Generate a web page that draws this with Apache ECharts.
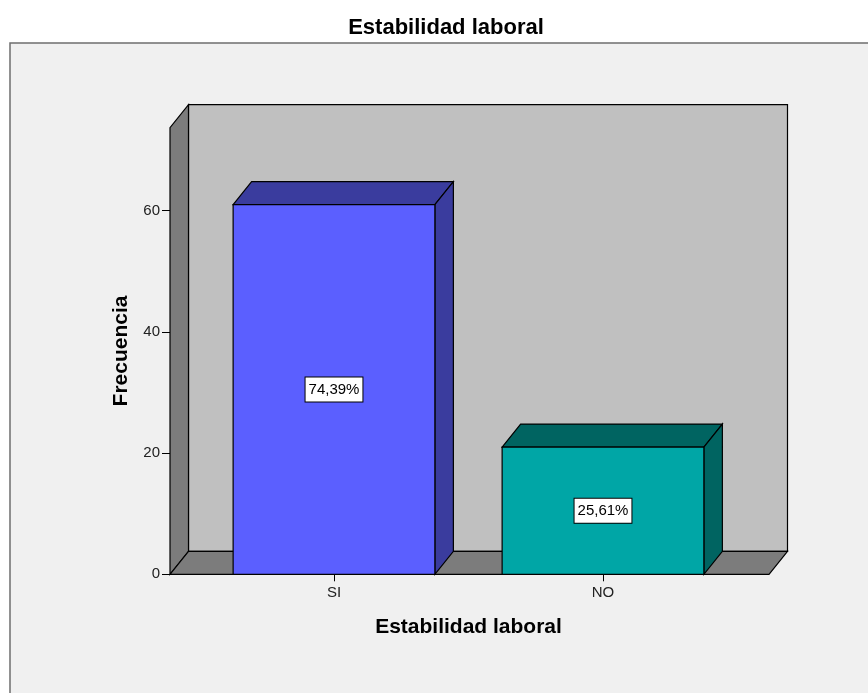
<!DOCTYPE html>
<html>
<head>
<meta charset="utf-8">
<title>Estabilidad laboral</title>
<script src="https://cdn.jsdelivr.net/npm/echarts@6/dist/echarts.min.js"></script>
<style>
  html, body { margin: 0; padding: 0; background: #ffffff; }
  #chart { width: 868px; height: 693px; }
</style>
</head>
<body>
<div id="chart"></div>
<script>
// Frequencies of the "Estabilidad laboral" answers
const categories = ['SI', 'NO'];
const frequencies = [61, 21];
const percentLabels = ['74,39%', '25,61%'];
const yTickValues = [0, 20, 40, 60];
const yAxisMax = 73.7;

// 3-D look: depth offset of the box and the bars
const DEPTH_X = 18.5;
const DEPTH_Y = -23;
// How far the floor reaches beyond the category band on each side
const FLOOR_EXT_LEFT = 29.5;
const FLOOR_EXT_RIGHT = 31.5;

const barFront = ['#5b5fff', '#00a6a6'];
const barShade = ['#3a3c9e', '#006461'];

const FONT = 'Arial, "Liberation Sans", sans-serif';

const chart = echarts.init(document.getElementById('chart'), null, { renderer: 'canvas' });

function renderBox(params, api) {
  const cs = params.coordSys;
  const x0 = cs.x - FLOOR_EXT_LEFT;
  const x1 = cs.x + cs.width + FLOOR_EXT_RIGHT;
  const yb = cs.y + cs.height;
  const yt = api.coord([0, yAxisMax])[1];
  const edge = { stroke: '#000', lineWidth: 1.2 };
  return {
    type: 'group',
    children: [
      { // back wall
        type: 'polygon',
        shape: { points: [[x0 + DEPTH_X, yt + DEPTH_Y], [x1 + DEPTH_X, yt + DEPTH_Y], [x1 + DEPTH_X, yb + DEPTH_Y], [x0 + DEPTH_X, yb + DEPTH_Y]] },
        style: Object.assign({ fill: '#c0c0c0' }, edge)
      },
      { // left side wall
        type: 'polygon',
        shape: { points: [[x0, yb], [x0, yt], [x0 + DEPTH_X, yt + DEPTH_Y], [x0 + DEPTH_X, yb + DEPTH_Y]] },
        style: Object.assign({ fill: '#7c7c7c' }, edge)
      },
      { // floor
        type: 'polygon',
        shape: { points: [[x0, yb], [x1, yb], [x1 + DEPTH_X, yb + DEPTH_Y], [x0 + DEPTH_X, yb + DEPTH_Y]] },
        style: Object.assign({ fill: '#7c7c7c' }, edge)
      }
    ]
  };
}

function renderBar(params, api) {
  const idx = api.value(0);
  const top = api.coord([idx, api.value(1)]);
  const base = api.coord([idx, 0]);
  const w = api.size([1, 0])[0] * 0.75;
  const l = top[0] - w / 2;
  const r = l + w;
  const edge = { stroke: '#000', lineWidth: 1.2 };
  return {
    type: 'group',
    children: [
      {
        type: 'polygon',
        shape: { points: [[l, top[1]], [l + DEPTH_X, top[1] + DEPTH_Y], [r + DEPTH_X, top[1] + DEPTH_Y], [r, top[1]]] },
        style: Object.assign({ fill: barShade[idx] }, edge)
      },
      {
        type: 'polygon',
        shape: { points: [[r, top[1]], [r + DEPTH_X, top[1] + DEPTH_Y], [r + DEPTH_X, base[1] + DEPTH_Y], [r, base[1]]] },
        style: Object.assign({ fill: barShade[idx] }, edge)
      },
      {
        type: 'rect',
        shape: { x: l, y: top[1], width: w, height: base[1] - top[1] },
        style: Object.assign({ fill: barFront[idx] }, edge)
      },
      {
        type: 'text',
        x: top[0],
        y: (top[1] + base[1]) / 2,
        style: {
          text: percentLabels[idx],
          font: '15px ' + FONT,
          fill: '#000',
          align: 'center',
          verticalAlign: 'middle',
          backgroundColor: '#fff',
          borderColor: '#000',
          borderWidth: 1,
          padding: [5, 3, 4, 3]
        }
      }
    ]
  };
}

chart.setOption({
  animation: false,
  backgroundColor: '#ffffff',
  title: {
    text: 'Estabilidad laboral',
    left: 446,
    top: 17,
    padding: 0,
    textAlign: 'center',
    textStyle: { fontFamily: FONT, fontSize: 22, fontWeight: 'bold', color: '#000' }
  },
  graphic: [{
    type: 'rect',
    z: -10,
    shape: { x: 10, y: 43, width: 900, height: 700 },
    style: { fill: '#f0f0f0', stroke: '#6e6e6e', lineWidth: 1.5 }
  }],
  grid: { left: 199.5, right: 130.5, top: 127.7, bottom: 118.7 },
  xAxis: {
    type: 'category',
    data: categories,
    boundaryGap: true,
    name: 'Estabilidad laboral',
    nameLocation: 'middle',
    nameGap: 42,
    nameTextStyle: { fontFamily: FONT, fontSize: 21, fontWeight: 'bold', color: '#000' },
    axisLine: { show: false },
    axisTick: { show: true, alignWithLabel: true, length: 7, lineStyle: { color: '#000' } },
    axisLabel: { margin: 11, fontFamily: FONT, fontSize: 15, color: '#222' },
    splitLine: { show: false }
  },
  yAxis: {
    type: 'value',
    min: 0,
    max: yAxisMax,
    offset: FLOOR_EXT_LEFT,
    name: 'Frecuencia',
    nameLocation: 'middle',
    nameGap: 38,
    nameTextStyle: { fontFamily: FONT, fontSize: 21, fontWeight: 'bold', color: '#000' },
    axisLine: { show: false },
    axisTick: { show: true, length: 8, customValues: yTickValues, lineStyle: { color: '#000' } },
    axisLabel: { margin: 10, fontFamily: FONT, fontSize: 15, color: '#222', customValues: yTickValues },
    splitLine: { show: false }
  },
  series: [
    {
      type: 'custom',
      name: 'box',
      silent: true,
      clip: false,
      z: 1,
      renderItem: renderBox,
      data: [[0, 0]]
    },
    {
      type: 'custom',
      name: 'Frecuencia',
      clip: false,
      z: 3,
      renderItem: renderBar,
      encode: { x: 0, y: 1 },
      data: categories.map((c, i) => [i, frequencies[i]])
    }
  ]
});
</script>
</body>
</html>
